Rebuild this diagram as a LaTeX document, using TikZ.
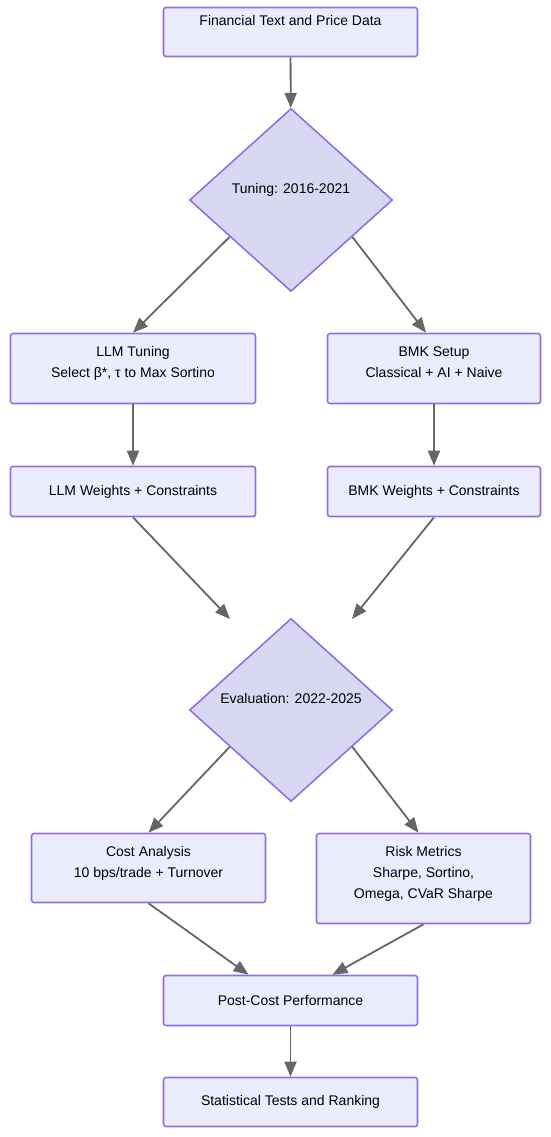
\documentclass[tikz,border=0pt]{standalone}
\usepackage{fontspec}
\setmainfont{Liberation Sans}
\usepackage{tikz}
\usetikzlibrary{arrows.meta, shapes.geometric, calc}
\usepackage{xcolor}
\definecolor{boxfill}{HTML}{ECECFF}
\definecolor{decfill}{HTML}{D8D8F3}
\definecolor{boxline}{HTML}{9370DB}
\definecolor{flowgray}{HTML}{666666}
\newcommand{\lowpad}[1]{\\[#1]\mbox{}}

\begin{document}
\begin{tikzpicture}[x=1pt,y=-1pt,
  font=\fontsize{14}{21}\selectfont,
  stage/.style={draw=boxline,fill=boxfill,line width=1.6pt,rounded corners=2.5pt,
    align=center,inner sep=0pt,minimum height=#1},
  stage/.default=49pt,
  split/.style={draw=boxline,fill=decfill,line width=1.6pt,shape=diamond,
    align=center,inner sep=0pt,minimum width=203pt,minimum height=183pt},
  flow/.style={draw=flowgray,line width=1.8pt,-{Triangle[length=15pt,width=12pt]}}]
  \useasboundingbox (0,0) rectangle (550,1137);
  % input and tuning window
  \node[stage,minimum width=254pt] (src) at (290.5,32){Financial Text and Price Data\lowpad{2pt}};
  \node[split] (tune) at (291,200){Tuning: 2016-2021\lowpad{2pt}};
  % two branches
  \node[stage=70pt,minimum width=245pt] (llmtune) at (133,368.5){LLM Tuning\\Select β*, τ to Max Sortino\lowpad{-8pt}};
  \node[stage=70pt,minimum width=213pt] (bmkset) at (434,368.5){BMK Setup\\Classical + AI + Naive\lowpad{-8pt}};
  \node[stage=50pt,minimum width=245pt] (llmw) at (133,491.5){LLM Weights + Constraints};
  \node[stage=50pt,minimum width=213pt] (bmkw) at (434,491.5){BMK Weights + Constraints};
  % evaluation window
  \node[split] (eval) at (291,710){Evaluation: 2022-2025\lowpad{2pt}};
  \coordinate (inL) at (230,619);
  \coordinate (inR) at (352,619);
  \node[stage=69pt,minimum width=234pt] (cost) at (148.5,868){Cost Analysis\\10 bps/trade + Turnover\lowpad{-8pt}};
  \node[stage=90pt,minimum width=214pt] (risk) at (423.5,878.5){Risk Metrics\\Sharpe, Sortino,\\Omega, CVaR Sharpe\lowpad{-8pt}};
  \node[stage=50pt,minimum width=254pt] (post) at (290.5,1000.5){Post-Cost Performance};
  \node[stage,minimum width=254pt] (stat) at (290.5,1102){Statistical Tests and Ranking};
  % connectors
  \draw[flow](src)--(tune);
  \draw[flow]($(tune.west)!0.4!(tune.south)$)--(llmtune.north);
  \draw[flow]($(tune.east)!0.4!(tune.south)$)--([xshift=-8pt]bmkset.north);
  \draw[flow](llmtune)--(llmw);
  \draw[flow](bmkset)--(bmkw);
  \draw[flow](llmw.south)--(inL);
  \draw[flow](bmkw.south)--(inR);
  \draw[flow]($(eval.west)!0.4!(eval.south)$)--(cost.north);
  \draw[flow]($(eval.east)!0.4!(eval.south)$)--([xshift=-5pt]risk.north);
  \draw[flow](cost.south)--([xshift=-42pt]post.north);
  \draw[flow](risk.south)--([xshift=42pt]post.north);
  \draw[flow](post)--(stat);
\end{tikzpicture}
\end{document}
